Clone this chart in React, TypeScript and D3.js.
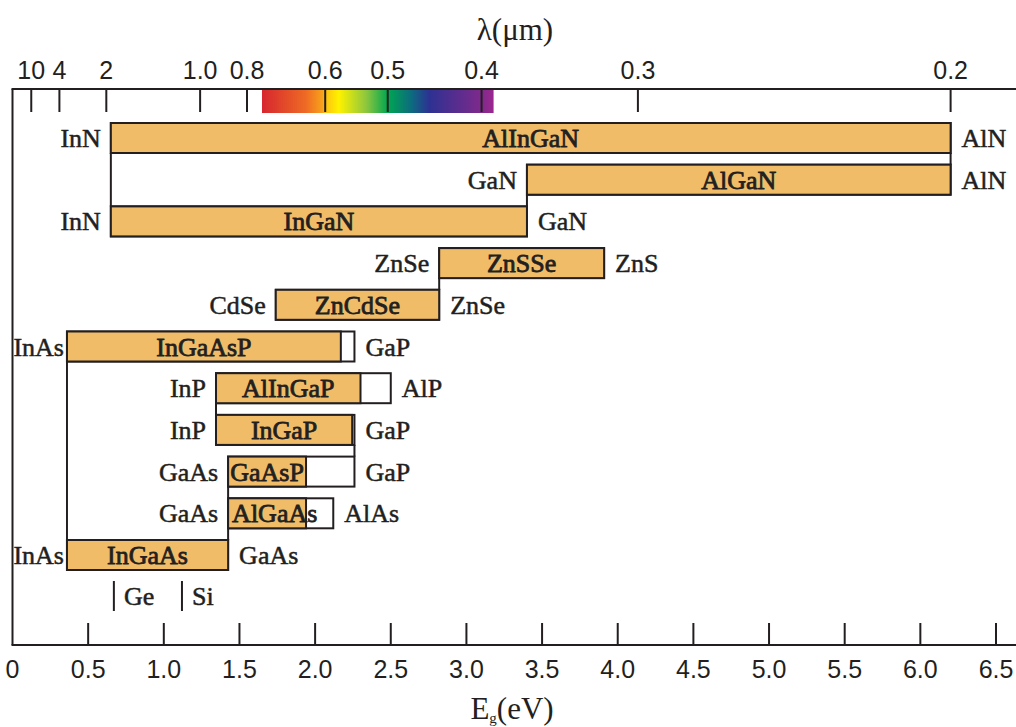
import React from "react";
import { scaleLinear, range } from "d3";

// alloy systems, one row each, top to bottom
const alloys = ["AlInGaN", "AlGaN", "InGaN", "ZnSSe", "ZnCdSe", "InGaAsP", "AlInGaP", "InGaP", "GaAsP", "AlGaAs", "InGaAs"];
const leftEnds = ["InN", "GaN", "InN", "ZnSe", "CdSe", "InAs", "InP", "InP", "GaAs", "GaAs", "InAs"];
const rightEnds = ["AlN", "AlN", "GaN", "ZnS", "ZnSe", "GaP", "AlP", "GaP", "GaP", "AlAs", "GaAs"];
// band gap range (eV) and where the direct gap ends (filled part)
const gapLow = [0.65, 3.4, 0.65, 2.82, 1.74, 0.36, 1.345, 1.345, 1.425, 1.425, 0.36];
const gapHigh = [6.2, 6.2, 3.4, 3.91, 2.82, 2.26, 2.5, 2.26, 2.26, 2.12, 1.425];
const directEnd = [6.2, 6.2, 3.4, 3.91, 2.82, 2.17, 2.3, 2.245, 1.94, 1.94, 1.425];
const labelStart = [false, false, false, false, false, false, false, false, false, true, false];

// vertical joins: energy, from row, to row
const joinEnergy = [0.65, 6.2, 3.4, 2.82, 0.36, 1.345, 2.26, 1.425];
const joinFrom = [0, 0, 1, 3, 5, 6, 7, 8];
const joinTo = [2, 1, 2, 4, 10, 7, 8, 10];

const elements = ["Ge", "Si"];
const elementGap = [0.67, 1.12];

const lambdaTicks = [10, 4, 2, 1.0, 0.8, 0.6, 0.5, 0.4, 0.3, 0.2];
const lambdaLabels = ["10", "4", "2", "1.0", "0.8", "0.6", "0.5", "0.4", "0.3", "0.2"];
const energyTicks = range(0, 6.51, 0.5);

// visible spectrum (wavelength in um -> colour)
const specLambda = [0.752, 0.64, 0.605, 0.6, 0.575, 0.53, 0.5, 0.47, 0.45, 0.42, 0.4, 0.39];
const specColor = ["#d7262f", "#ee6a24", "#f8a21b", "#fdc10f", "#fff200", "#8cc63f", "#00a651", "#0d6a80", "#2e3192", "#5b2d8e", "#7f2a8c", "#9c268f"];

const HC = 1.24;
const BAR_H = 30;
const INK = "#231f20";
const FILL = "#f0bc68";
const SERIF = "'Liberation Serif', 'Times New Roman', serif";
const SANS = "'Liberation Sans', Arial, sans-serif";

export default function App() {
  const W = 1016, H = 727;
  const top = 89, bottom = 645, left = 12.5;
  const x = scaleLinear().domain([0, 6.5]).range([left, 996]);
  const y = scaleLinear().domain([0, 10]).range([123, 540]);

  const specX0 = x(HC / specLambda[0]);
  const specX1 = x(HC / specLambda[specLambda.length - 1]);

  const label = { fontFamily: SERIF, fontSize: 26, fill: INK, stroke: INK, strokeWidth: 0.5 };

  return (
    <svg width={W} height={H} style={{ position: "absolute", left: 0, top: 0 }}>
      <defs>
        <linearGradient id="spec" x1="0" x2="1" y1="0" y2="0">
          {specLambda.map((l, i) => (
            <stop key={i} offset={(x(HC / l) - specX0) / (specX1 - specX0)} stopColor={specColor[i]} />
          ))}
        </linearGradient>
      </defs>

      {/* spectrum strip */}
      <rect x={specX0} y={top + 1} width={specX1 - specX0} height={23} fill="url(#spec)" />

      {/* frame */}
      <line x1={left} x2={left} y1={top} y2={bottom} stroke={INK} strokeWidth={2} />
      <line x1={left - 1} x2={W} y1={top} y2={top} stroke={INK} strokeWidth={2} />
      <line x1={left - 1} x2={W} y1={bottom} y2={bottom} stroke={INK} strokeWidth={2} />

      {/* top wavelength axis */}
      {lambdaTicks.map((l, i) => (
        <g key={l} transform={`translate(${x(HC / l)},0)`}>
          <line y1={top} y2={top + 23} stroke={INK} strokeWidth={2} />
          <text y={79} textAnchor="middle" fontFamily={SANS} fontSize={25} fill={INK}>{lambdaLabels[i]}</text>
        </g>
      ))}
      <text x={515} y={40} textAnchor="middle" fontFamily={SERIF} fontSize={31} fill={INK}>λ(μm)</text>

      {/* bottom energy axis */}
      {energyTicks.map((e) => (
        <g key={e} transform={`translate(${x(e)},0)`}>
          {e > 0 && <line y1={bottom - 22} y2={bottom} stroke={INK} strokeWidth={2} />}
          <text y={678} textAnchor="middle" fontFamily={SANS} fontSize={25} fill={INK}>{e === 0 ? "0" : e.toFixed(1)}</text>
        </g>
      ))}
      <text x={512} y={719} textAnchor="middle" fontFamily={SERIF} fontSize={31} fill={INK}>
        E<tspan fontSize={15} dy={4}>g</tspan><tspan dy={-4}>(eV)</tspan>
      </text>

      {/* joins */}
      {joinEnergy.map((e, i) => (
        <line key={i} x1={x(e)} x2={x(e)} y1={y(joinFrom[i]) + BAR_H} y2={y(joinTo[i])} stroke={INK} strokeWidth={2} />
      ))}

      {/* bars */}
      {alloys.map((name, i) => {
        const x0 = x(gapLow[i]), x1 = x(gapHigh[i]), xd = x(directEnd[i]);
        const t = y(i);
        const cy = t + BAR_H / 2 + 9;
        const lx = x0 - 10 < 70 ? x0 - 3 : x0 - 10;
        return (
          <g key={name}>
            <rect x={x0} y={t} width={x1 - x0} height={BAR_H} fill="#fff" stroke={INK} strokeWidth={2} />
            <rect x={x0} y={t} width={xd - x0} height={BAR_H} fill={FILL} stroke={INK} strokeWidth={2} />
            <text
              {...label}
              strokeWidth={0.8}
              x={labelStart[i] ? x0 + 4 : (x0 + xd) / 2}
              y={cy}
              textAnchor={labelStart[i] ? "start" : "middle"}
            >{name}</text>
            <text {...label} x={lx} y={cy} textAnchor="end">{leftEnds[i]}</text>
            <text {...label} x={x1 + 11} y={cy} textAnchor="start">{rightEnds[i]}</text>
          </g>
        );
      })}

      {/* elemental semiconductors */}
      {elements.map((el, i) => (
        <g key={el} transform={`translate(${x(elementGap[i])},0)`}>
          <line y1={581} y2={611} stroke={INK} strokeWidth={2} />
          <text {...label} x={10} y={605}>{el}</text>
        </g>
      ))}
    </svg>
  );
}
